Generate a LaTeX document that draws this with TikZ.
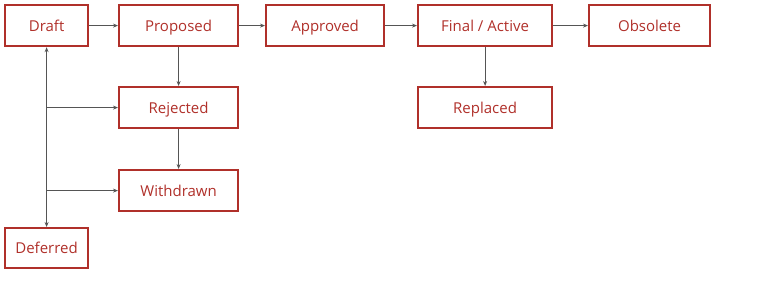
\documentclass[tikz,border=0pt]{standalone}
\usepackage{fontspec}
\setmainfont{Open Sans}
\usetikzlibrary{arrows.meta}
\definecolor{boxred}{HTML}{B0302A}
\definecolor{linegray}{HTML}{555555}
\begin{document}
\begin{tikzpicture}[x=1pt,y=-1pt,
  stbox/.style={draw=boxred,line width=2.2pt,text=boxred,inner sep=0pt,text height=11pt,text depth=0pt,font=\fontsize{15}{16}\selectfont,anchor=north west,minimum height=41pt},
  conn/.style={draw=linegray,line width=0.9pt,-{Stealth[length=5pt,width=4pt]}},
  conn2/.style={draw=linegray,line width=0.9pt,{Stealth[length=5pt,width=4pt]}-{Stealth[length=5pt,width=4pt]}}]
\useasboundingbox (0,0) rectangle (777,287);
\node[stbox,minimum width=83pt] (draft) at (4,4) {Draft};
\node[stbox,minimum width=119pt] (prop) at (118,4) {Proposed};
\node[stbox,minimum width=118pt] (appr) at (265,4) {Approved};
\node[stbox,minimum width=134pt] (final) at (417,4) {Final / Active};
\node[stbox,minimum width=121pt] (obs) at (588,4) {Obsolete};
\node[stbox,minimum width=119pt] (rej) at (118,86) {Rejected};
\node[stbox,minimum width=134pt] (repl) at (417,86) {Replaced};
\node[stbox,minimum width=119pt] (wd) at (118,169) {Withdrawn};
\node[stbox,minimum width=83pt,minimum height=40pt] (def) at (4,227) {Deferred};
\coordinate (j1) at (draft.south |- rej.west);
\coordinate (j2) at (draft.south |- wd.west);
\draw[conn] (draft) -- (prop);
\draw[conn] (prop) -- (appr);
\draw[conn] (appr) -- (final);
\draw[conn] (final) -- (obs);
\draw[conn] (prop) -- (rej);
\draw[conn] (rej) -- (wd);
\draw[conn] (final.south) -- ++(0,12) -| (repl.north);
\draw[conn2] (draft.south) -- (def.north);
\draw[conn] (j1) -- (rej.west);
\draw[conn] (j2) -- (wd.west);
\end{tikzpicture}
\end{document}
